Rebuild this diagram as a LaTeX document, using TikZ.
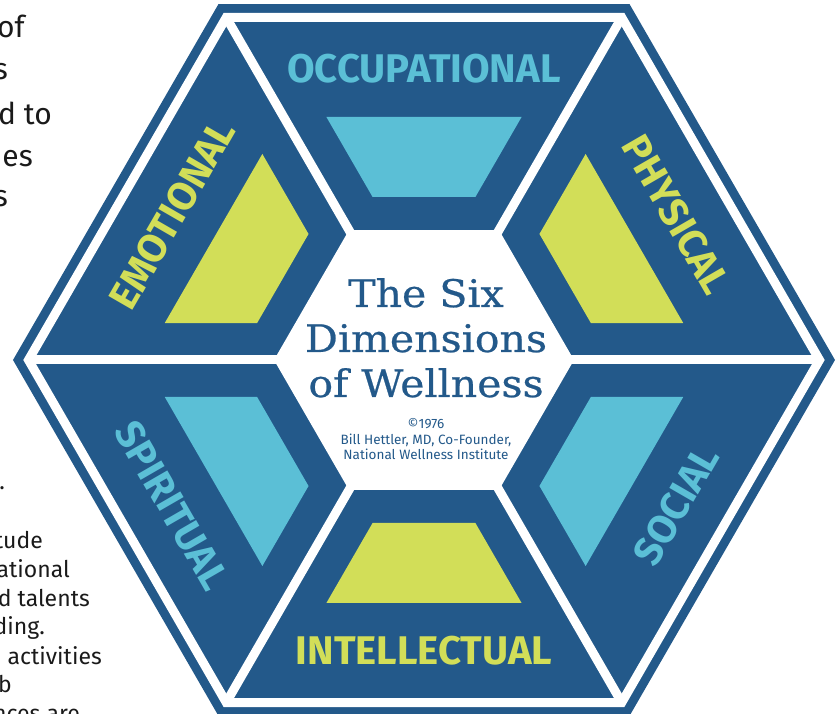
\documentclass[tikz,border=0pt]{standalone}
\usepackage{fontspec}
\usepackage{tikz}
\usetikzlibrary{positioning}
\setmainfont{Fira Sans}
\newfontfamily\slabfont[FakeStretch=1.08, FakeBold=0.6]{DejaVu Serif}

\definecolor{dimblue}{HTML}{23598A}
\definecolor{dimcyan}{HTML}{5BBFD6}
\definecolor{dimgreen}{HTML}{D2DE58}
\definecolor{bodyink}{HTML}{1A1A1A}

\tikzset{
  dimlabel/.style={font=\fontsize{40}{40}\selectfont\bfseries, inner sep=0pt},
  pagetext/.style={anchor=base east, inner sep=0pt, text=bodyink},
  gapline/.style={white, line width=9pt}
}

\begin{document}
\begin{tikzpicture}[x=1pt, y=1pt]
\useasboundingbox (-424,-354) rectangle (415,360);
% outer hexagon
\fill[dimblue] (0:411) -- (60:411) -- (120:411) -- (180:411) -- (240:411) -- (300:411) -- cycle;
% white ring and spokes
\draw[gapline, line join=miter] (0:395.5) -- (60:395.5) -- (120:395.5) -- (180:395.5) -- (240:395.5) -- (300:395.5) -- cycle;
\foreach \a in {0,60,...,300}{
  \draw[gapline] (0,0) -- (\a:395.5);
}
% centre hexagon
\fill[white] (0:150) -- (60:150) -- (120:150) -- (180:150) -- (240:150) -- (300:150) -- cycle;

% the six dimensions
\foreach \ang/\col/\lab/\rot in {90/dimcyan/OCCUPATIONAL/0, 30/dimgreen/PHYSICAL/-60,
    -30/dimcyan/SOCIAL/60, -90/dimgreen/INTELLECTUAL/0,
    -150/dimcyan/SPIRITUAL/-60, 150/dimgreen/EMOTIONAL/60}{
  \begin{scope}[rotate=\ang-90]
    \fill[\col] (-97.6,243) -- (97.6,243) -- (51.4,163) -- (-51.4,163) -- cycle;
  \end{scope}
  \node[dimlabel, text=\col, rotate=\rot] (\lab) at (\ang:291) {\lab};
}

% title in the middle
\node[font=\slabfont\fontsize{38}{45}\selectfont, text=dimblue, align=center, anchor=base]
  (title) at (2,-37) {The Six\\Dimensions\\of Wellness};
\node[font=\fontsize{13.5}{15.5}\selectfont, text=dimblue, align=center, anchor=base]
  (credit) at (2,-100) {\textcopyright1976\\Bill Hettler, MD, Co-Founder,\\National Wellness Institute};

% page text cut by the left edge
\node[pagetext, font=\fontsize{30}{30}\selectfont] (top1) at (-399,322) {of};
\node[pagetext, font=\fontsize{30}{30}\selectfont] (top2) at (-416,280) {s};
\node[pagetext, font=\fontsize{30}{30}\selectfont] (top3) at (-372,235) {d to};
\node[pagetext, font=\fontsize{30}{30}\selectfont] (top4) at (-391,193) {es};
\node[pagetext, font=\fontsize{30}{30}\selectfont] (top5) at (-416,153) {s};
\node[pagetext, font=\fontsize{23}{23}\selectfont] (low1) at (-419,-130) {.};
\node[pagetext, font=\fontsize{23}{23}\selectfont] (low2) at (-381,-189) {tude};
\node[pagetext, font=\fontsize{23}{23}\selectfont] (low3) at (-354,-218) {ational};
\node[pagetext, font=\fontsize{23}{23}\selectfont] (low4) at (-334,-247) {d talents};
\node[pagetext, font=\fontsize{23}{23}\selectfont] (low5) at (-379,-275) {ding.};
\node[pagetext, font=\fontsize{23}{23}\selectfont] (low6) at (-322,-305) {activities};
\node[pagetext, font=\fontsize{23}{23}\selectfont] (low7) at (-412,-333) {b};
\node[pagetext, font=\fontsize{23}{23}\selectfont] (low8) at (-344,-362) {nces are};
\end{tikzpicture}
\end{document}
